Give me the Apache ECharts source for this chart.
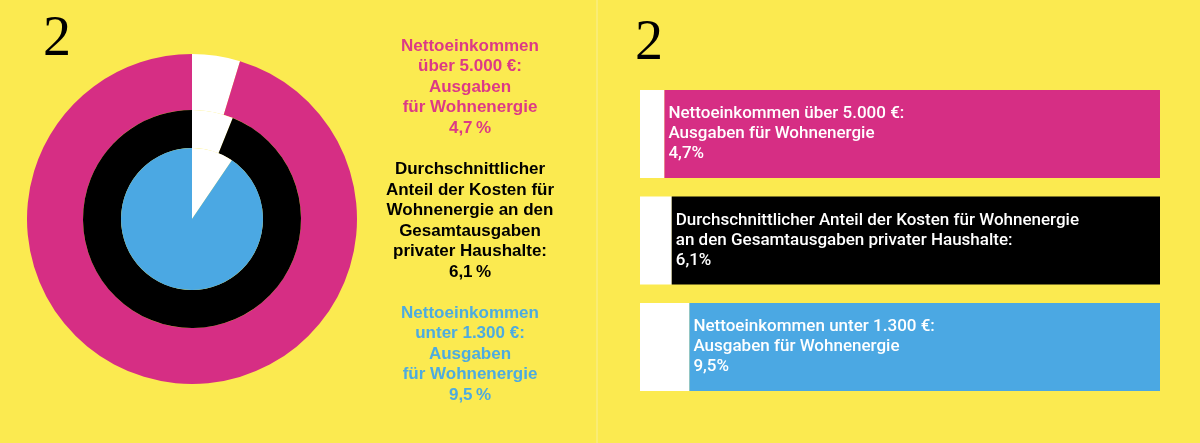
<!DOCTYPE html>
<html>
<head>
<meta charset="UTF-8">
<title>Ausgaben für Wohnenergie</title>
<script src="https://cdn.jsdelivr.net/npm/echarts@6/dist/echarts.min.js"></script>
<style>
    html, body {
        margin: 0;
        padding: 0;
        background: #fbea50;
    }
    #main {
        width: 1200px;
        height: 443px;
    }
</style>
</head>
<body>
<div id="main"></div>
<script>
// Anteil der Wohnenergie an den Gesamtausgaben, in %
var groups = ['über 5.000 €', 'Durchschnitt', 'unter 1.300 €'];
var shares = [4.7, 6.1, 9.5];
var groupColors = ['#d62e84', '#000000', '#4ba8e3'];
var textColors = ['#dc3a86', '#000000', '#4dabe0'];

var pieTexts = [
    'Nettoeinkommen\nüber 5.000 €:\nAusgaben\nfür Wohnenergie',
    'Durchschnittlicher\nAnteil der Kosten für\nWohnenergie an den\nGesamtausgaben\nprivater Haushalte:',
    'Nettoeinkommen\nunter 1.300 €:\nAusgaben\nfür Wohnenergie'
];
var barTexts = [
    'Nettoeinkommen über 5.000 €:\nAusgaben für Wohnenergie',
    'Durchschnittlicher Anteil der Kosten für Wohnenergie\nan den Gesamtausgaben privater Haushalte:',
    'Nettoeinkommen unter 1.300 €:\nAusgaben für Wohnenergie'
];

function fmt(v, sep) {
    return String(v).replace('.', ',') + sep + '%';
}

var myChart = echarts.init(document.getElementById('main'));

// Ringe: aussen > 5.000 €, mitte Durchschnitt, innen < 1.300 €
var radii = [[109, 165], [71, 109], [0, 71]];
var pieSeries = shares.map(function (v, i) {
    return {
        type: 'pie',
        center: [192, 219],
        radius: radii[i],
        startAngle: 90,
        clockwise: true,
        silent: true,
        animation: false,
        label: { show: false },
        labelLine: { show: false },
        data: [
            { name: 'Wohnenergie', value: v, itemStyle: { color: '#ffffff' } },
            { name: groups[i], value: 100 - v, itemStyle: { color: groupColors[i] } }
        ]
    };
});

var pieLabelY = [87, 221, 354];
var graphics = [
    { type: 'line', shape: { x1: 597, y1: 0, x2: 597, y2: 443 }, style: { stroke: '#f8ef97', lineWidth: 1 } },
    { type: 'text', x: 43, y: 12, style: { text: '2', fontFamily: 'Liberation Serif', fontSize: 56, fill: '#000', verticalAlign: 'top' } },
    { type: 'text', x: 635, y: 16, style: { text: '2', fontFamily: 'Liberation Serif', fontSize: 56, fill: '#000', verticalAlign: 'top' } }
];
pieTexts.forEach(function (t, i) {
    graphics.push({
        type: 'text',
        x: 470,
        y: pieLabelY[i],
        style: {
            text: t + '\n' + fmt(shares[i], '\u202F'),
            fill: textColors[i],
            fontFamily: 'Liberation Sans',
            fontWeight: 'bold',
            fontSize: 17,
            lineHeight: 20.5,
            align: 'center',
            verticalAlign: 'middle'
        }
    });
});

option = {
    backgroundColor: '#fbea50',
    animation: false,
    graphic: graphics,
    grid: { left: 640, width: 520, top: 80.75, height: 319.5 },
    xAxis: { type: 'value', min: 0, max: 100, show: false },
    yAxis: { type: 'category', data: groups, inverse: true, show: false },
    series: pieSeries.concat([
        {
            type: 'bar',
            stack: 'total',
            barWidth: 88,
            silent: true,
            itemStyle: { color: '#ffffff' },
            data: shares
        },
        {
            type: 'bar',
            stack: 'total',
            barWidth: 88,
            silent: true,
            data: shares.map(function (v, i) {
                return { value: 100 - v, itemStyle: { color: groupColors[i] } };
            }),
            label: {
                show: true,
                position: 'insideLeft',
                distance: 4,
                color: '#ffffff',
                fontFamily: 'Roboto',
                fontWeight: 500,
                fontSize: 17,
                lineHeight: 20,
                align: 'left',
                formatter: function (p) {
                    return barTexts[p.dataIndex] + '\n' + fmt(shares[p.dataIndex], '');
                }
            }
        }
    ])
};

myChart.setOption(option);
</script>
</body>
</html>
